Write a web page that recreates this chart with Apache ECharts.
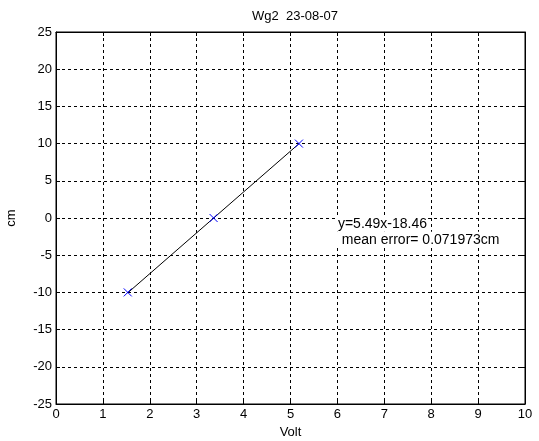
<!DOCTYPE html>
<html><head><meta charset="utf-8">
<script src="https://cdn.jsdelivr.net/npm/echarts@6/dist/echarts.min.js"></script>
<style>html,body{margin:0;padding:0;background:#fff}#c{width:539px;height:441px}</style>
</head><body><div id="c"></div>
<script>
const titleText = 'Wg2  23-08-07';
const xName = 'Volt';
const yName = 'cm';
const voltValues = [1.53, 3.36, 5.18];
const cmValues = [-10, 0, 10];
const fitX = [1.53, 5.18];
const fitY = [-10.06, 9.98];
const annotLines = ['y=5.49x-18.46', ' mean error= 0.071973cm'];
const annotPos = [5.99, -0.5];

const font = '"Liberation Sans", Arial, sans-serif';
const fs = 13;
const chart = echarts.init(document.getElementById('c'), null, {renderer: 'canvas'});
const gridStyle = {show: true, lineStyle: {color: '#000', type: [3, 3], width: 1}};
const axLine = {show: true, onZero: false, lineStyle: {color: '#000'}};
chart.setOption({
  animation: false,
  backgroundColor: '#fff',
  title: {text: titleText, left: 290, top: 5, textAlign: 'center',
    textStyle: {fontFamily: font, fontSize: fs, fontWeight: 'normal', color: '#000'}},
  grid: {left: 56, right: 14, top: 32, bottom: 37, containLabel: false, outerBoundsMode: 'none',
    show: true, borderColor: '#000', borderWidth: 1, backgroundColor: '#fff'},
  xAxis: [{
    type: 'value', min: 0, max: 10, interval: 1, position: 'bottom',
    name: xName, nameLocation: 'middle', nameGap: 22,
    nameTextStyle: {fontFamily: font, fontSize: fs, color: '#000'},
    axisLine: axLine,
    axisTick: {show: true, inside: true, length: 4, lineStyle: {color: '#000'}},
    axisLabel: {fontFamily: font, fontSize: fs, color: '#000', margin: 4},
    splitLine: gridStyle
  }, {
    type: 'value', min: 0, max: 10, interval: 1, position: 'top',
    axisLine: axLine,
    axisTick: {show: true, inside: true, length: 4, lineStyle: {color: '#000'}},
    axisLabel: {show: false}, splitLine: {show: false}
  }],
  yAxis: [{
    type: 'value', min: -25, max: 25, interval: 5, position: 'left',
    name: yName, nameLocation: 'middle', nameGap: 38, nameRotate: 90,
    nameTextStyle: {fontFamily: font, fontSize: fs, color: '#000'},
    axisLine: axLine,
    axisTick: {show: true, inside: true, length: 4, lineStyle: {color: '#000'}},
    axisLabel: {fontFamily: font, fontSize: fs, color: '#000', margin: 4},
    splitLine: gridStyle
  }, {
    type: 'value', min: -25, max: 25, interval: 5, position: 'right',
    axisLine: axLine,
    axisTick: {show: true, inside: true, length: 4, lineStyle: {color: '#000'}},
    axisLabel: {show: false}, splitLine: {show: false}
  }],
  series: [{
    type: 'line', data: fitX.map((x, i) => [x, fitY[i]]),
    showSymbol: false, symbol: 'none', lineStyle: {color: '#000', width: 1}, z: 3
  }, {
    type: 'scatter', data: voltValues.map((x, i) => [x, cmValues[i]]),
    symbol: 'path://M0,0L10,10M10,0L0,10', symbolSize: 8, clip: false,
    itemStyle: {color: 'none', borderColor: '#0000ff', borderWidth: 1, opacity: 1}, z: 5
  }]
});
const p = chart.convertToPixel({gridIndex: 0}, annotPos);
chart.setOption({graphic: annotLines.map((t, i) => ({
  type: 'text', left: p[0], top: p[1] - 6 + i * 16, z: 10,
  style: {text: t, fontFamily: font, fontSize: 14, fill: '#000',
    lineHeight: 16, backgroundColor: '#fff', padding: [0, 1]}
}))});
</script></body></html>
